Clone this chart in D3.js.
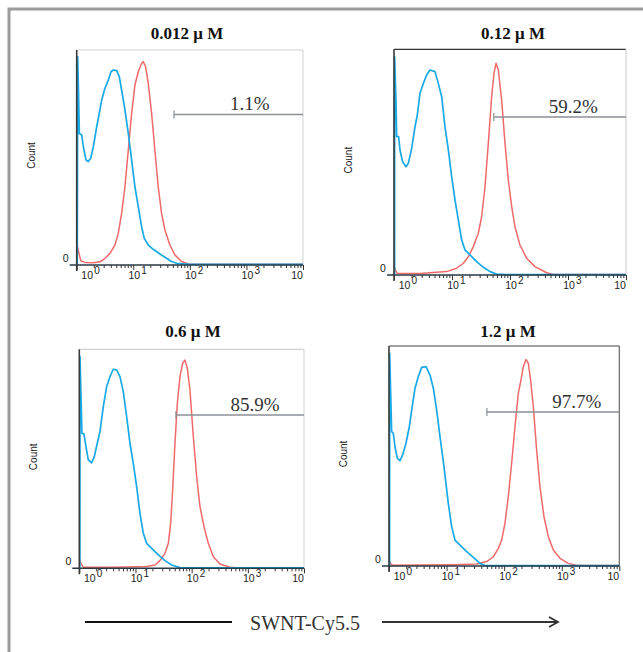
<!DOCTYPE html>
<html>
<head>
<meta charset="utf-8">
<script src="https://cdn.jsdelivr.net/npm/d3@7"></script>
<style>
  body { margin: 0; background: #fff; }
  svg { display: block; }
</style>
</head>
<body>
<div id="chart"></div>
<script>
// x values are log10 of SWNT-Cy5.5 fluorescence, y is normalized count (0-100)
var titles = ["0.012 μ M", "0.12 μ M", "0.6 μ M", "1.2 μ M"];
var percents = ["1.1%", "59.2%", "85.9%", "97.7%"];
var gateStart = [1.72, 1.72, 1.72, 1.70];
var gateCount = [70, 70, 70, 70];
var pctAt = [3.06, 3.09, 3.13, 3.26];
var decades = [0, 1, 2, 3, 4];

var blue1 = [[0.01,0],[0.018,96.9],[0.035,76.7],[0.047,61.2],[0.088,60.5],[0.118,55],[0.165,48.8],[0.206,48.1],
  [0.247,49.6],[0.294,55],[0.353,64.3],[0.394,69.8],[0.441,76.7],[0.5,82.2],[0.559,86],[0.606,89.9],[0.647,90.7],
  [0.706,90.4],[0.753,87.6],[0.794,81.4],[0.853,72.1],[0.912,61.2],[0.971,48.8],[1.029,36.4],[1.088,27.1],
  [1.147,17.8],[1.194,12.4],[1.265,9.3],[1.353,7.3],[1.471,5.1],[1.588,3.1],[1.676,1.6],[1.765,0.8],[2.0,0.3],[4.0,0.3]];
var red1 = [[0.005,0],[0.012,8.5],[0.041,5.4],[0.071,2],[0.147,1.2],[0.294,1.1],[0.412,1.5],[0.5,3.1],[0.588,5.4],
  [0.676,9.3],[0.735,14.7],[0.794,24],[0.853,36.4],[0.912,53.5],[0.971,70.5],[1.029,83.7],[1.088,89.9],[1.147,93.8],
  [1.176,94.6],[1.218,92.2],[1.265,84.5],[1.324,70.5],[1.382,53.5],[1.441,36.4],[1.5,24],[1.559,16.3],[1.647,9.3],
  [1.735,4.7],[1.853,1.6],[2.0,0.3],[4.0,0.3]];

var blue2 = [[0.01,0],[0.011,96.7],[0.034,77.5],[0.046,61.3],[0.08,61.3],[0.103,55.4],[0.149,50.2],[0.207,48],
  [0.247,49.5],[0.305,56.1],[0.362,65.7],[0.402,70.9],[0.448,80.5],[0.506,84.9],[0.563,88.6],[0.621,90.8],
  [0.707,90.1],[0.764,84.9],[0.822,79],[0.879,65.7],[0.937,55.4],[0.994,43.6],[1.052,33.2],[1.109,24.4],
  [1.167,15.5],[1.224,11.1],[1.31,8.9],[1.425,5.9],[1.54,3.4],[1.655,1.5],[1.77,0.4],[1.95,0.2],[4.0,0.2]];
var red2 = [[0.0,4.4],[0.023,2.2],[0.057,0.7],[0.448,0.7],[0.908,1.5],[1.08,3],[1.195,5.2],[1.282,8.1],[1.368,12.6],
  [1.454,18.5],[1.511,25.8],[1.569,39.1],[1.626,58.3],[1.684,79],[1.724,89.4],[1.759,93.8],[1.799,90.8],[1.856,77.5],
  [1.914,58.3],[1.971,42.1],[2.029,30.3],[2.086,21.4],[2.172,13.3],[2.287,7.4],[2.431,3.7],[2.632,1],[2.747,0.2],[4.0,0.2]];

var blue3 = [[0.01,0],[0.012,96.8],[0.03,78.5],[0.047,61.6],[0.083,61.3],[0.119,55.6],[0.16,49.5],[0.22,48.2],
  [0.267,51],[0.32,57.1],[0.368,62.4],[0.427,73.8],[0.487,83],[0.546,87.5],[0.605,90.9],[0.665,90.6],[0.724,87.5],
  [0.783,80.7],[0.843,69.3],[0.902,57.1],[0.961,47.9],[1.021,37.3],[1.08,25.1],[1.139,16],[1.199,11.4],[1.288,9.1],
  [1.407,6.1],[1.525,3.5],[1.644,1.5],[1.792,0.3],[1.95,0.2],[4.0,0.2]];
var red3 = [[0.0,4.6],[0.03,2.3],[0.071,0.5],[0.665,0.5],[1.199,0.8],[1.347,1.5],[1.436,3.5],[1.525,6.8],[1.585,11.4],
  [1.626,20.5],[1.662,35.8],[1.703,57.1],[1.745,75.3],[1.792,87.5],[1.84,93.6],[1.881,95.1],[1.923,91.3],[1.97,81.4],
  [2.03,60.1],[2.089,41.9],[2.148,28.2],[2.22,19],[2.297,11.4],[2.386,5.3],[2.504,2],[2.682,0.5],[2.8,0.2],[4.0,0.2]];

var blue4 = [[0.01,0],[0.012,96.7],[0.029,78.5],[0.046,61.1],[0.075,60.3],[0.104,54.2],[0.145,48.9],[0.191,47.9],
  [0.237,50.5],[0.295,55.8],[0.353,63.3],[0.394,70.9],[0.452,80.8],[0.509,86.1],[0.567,90.3],[0.643,90.6],
  [0.712,86.8],[0.77,80.8],[0.828,70.9],[0.886,58.8],[0.955,45.2],[1.03,28.5],[1.088,17.9],[1.146,11.8],
  [1.233,9.5],[1.349,6.5],[1.465,3.9],[1.58,1.2],[1.667,0.2],[4.0,0.2]];
var red4 = [[0.0,2.7],[0.029,0.9],[0.075,0.3],[1.117,0.6],[1.522,0.9],[1.696,2],[1.812,4.2],[1.899,8],[1.957,11.8],
  [2.014,19.4],[2.072,31.5],[2.13,46.7],[2.188,63.3],[2.246,78.5],[2.292,84.5],[2.333,90.6],[2.379,93.9],[2.42,92.1],
  [2.46,84.5],[2.507,72.4],[2.564,52.7],[2.622,36.1],[2.692,22.4],[2.767,13.3],[2.854,7.3],[2.97,3.5],[3.114,1.2],
  [3.259,0.3],[4.0,0.2]];

var blues = [blue1, blue2, blue3, blue4];
var reds = [red1, red2, red3, red4];

// plot boxes in page pixels
var boxes = [
  {l: 76.7, t: 50, r: 303, b: 265, tx: 187, ty: 39, topC: "#cfd3d6", rightC: "#d6d9dc"},
  {l: 394, t: 49.3, r: 626, b: 275, tx: 513, ty: 39, topC: "#333", rightC: "#d0d3d6"},
  {l: 79.3, t: 349.3, r: 304, b: 568.3, tx: 193, ty: 337, topC: "#cfd3d6", rightC: "#d6d9dc"},
  {l: 389, t: 346, r: 619.3, b: 566, tx: 508, ty: 337, topC: "#444", rightC: "#666"}
];

var W = 643, H = 652;
var svg = d3.select("#chart").append("svg").attr("width", W).attr("height", H);

// outer frame
svg.append("rect").attr("x", 9).attr("y", 9).attr("width", 700).attr("height", 700)
  .attr("fill", "none").attr("stroke", "#9b9b9b").attr("stroke-width", 3);

var sans = "'Liberation Sans', Arial, sans-serif";
var serif = "'Liberation Serif', 'Times New Roman', serif";

boxes.forEach(function(bx, i) {
  var x = d3.scaleLog().domain([1, 10000]).range([bx.l, bx.r]);
  var y = d3.scaleLinear().domain([0, 100]).range([bx.b, bx.t]);
  var fx = function(lg) { return x(Math.pow(10, lg)); };

  var g = svg.append("g");

  // top/right border
  g.append("line").attr("x1", bx.l).attr("x2", bx.r).attr("y1", bx.t).attr("y2", bx.t)
    .attr("stroke", bx.topC).attr("stroke-width", 1.2);
  g.append("line").attr("x1", bx.r).attr("x2", bx.r).attr("y1", bx.t).attr("y2", bx.b)
    .attr("stroke", bx.rightC).attr("stroke-width", 1.2);

  // title
  g.append("text").attr("x", bx.tx).attr("y", bx.ty).attr("text-anchor", "middle")
    .attr("font-family", serif).attr("font-weight", "bold").attr("font-size", 17)
    .attr("fill", "#111").text(titles[i]);

  // Count label
  g.append("text")
    .attr("transform", "translate(" + (bx.l - 42) + "," + ((bx.t + bx.b) / 2 - 2) + ") rotate(-90)")
    .attr("text-anchor", "middle").attr("font-family", sans).attr("font-size", 10)
    .attr("fill", "#222").text("Count");

  // "0"
  g.append("text").attr("x", bx.l - 11).attr("y", y(0) - 3).attr("text-anchor", "middle")
    .attr("font-family", sans).attr("font-size", 10.5).attr("fill", "#222").text("0");

  // curves
  var line = d3.line().x(function(d) { return fx(d[0]); }).y(function(d) { return y(d[1]); });
  g.append("path").datum(reds[i]).attr("d", line).attr("fill", "none")
    .attr("stroke", "#f06a6a").attr("stroke-width", 1.5).attr("stroke-linejoin", "round");
  g.append("path").datum(blues[i]).attr("d", line).attr("fill", "none")
    .attr("stroke", "#19aae6").attr("stroke-width", 1.7).attr("stroke-linejoin", "round");

  // axes: minor and major ticks
  var minor = x.ticks().filter(function(v) { return decades.indexOf(Math.round(Math.log10(v))) < 0 || Math.abs(Math.log10(v) - Math.round(Math.log10(v))) > 1e-6; });
  var major = decades.map(function(d) { return Math.pow(10, d); });
  var ax = g.append("g").attr("transform", "translate(0," + y(0) + ")");
  ax.append("g").call(d3.axisBottom(x).tickValues(minor).tickSize(3).tickFormat(""))
    .call(function(s) { s.select(".domain").remove(); s.selectAll("line").attr("stroke", "#333"); });
  ax.append("g").call(d3.axisBottom(x).tickValues(major).tickSize(5).tickFormat(""))
    .call(function(s) { s.select(".domain").remove(); s.selectAll("line").attr("stroke", "#333"); });

  // axis lines
  g.append("line").attr("x1", bx.l - 7).attr("x2", bx.r).attr("y1", y(0)).attr("y2", y(0))
    .attr("stroke", "#2a3a44").attr("stroke-width", 1.6);
  g.append("line").attr("x1", bx.l).attr("x2", bx.l).attr("y1", bx.t).attr("y2", y(0) + 6)
    .attr("stroke", "#3a3a3a").attr("stroke-width", 1.6);

  // decade labels
  decades.forEach(function(d) {
    var off = d === 0 ? 10.5 : (d === 4 ? -6 : 1);
    var cx = fx(d) + off;
    g.append("text").attr("x", cx).attr("y", y(0) + 14).attr("text-anchor", "middle")
      .attr("font-family", sans).attr("font-size", 10.5).attr("fill", "#222").text("10");
    if (d < 4) {
      g.append("text").attr("x", cx + 7).attr("y", y(0) + 8.5)
        .attr("font-family", sans).attr("font-size", 10).attr("fill", "#222").text(d);
    }
  });

  // gate
  var gy = y(gateCount[i]);
  g.append("line").attr("x1", fx(gateStart[i])).attr("x2", bx.r).attr("y1", gy).attr("y2", gy)
    .attr("stroke", "#8b9196").attr("stroke-width", 1.3);
  g.append("line").attr("x1", fx(gateStart[i])).attr("x2", fx(gateStart[i]))
    .attr("y1", gy - 4).attr("y2", gy + 4).attr("stroke", "#8b9196").attr("stroke-width", 1.2);
  g.append("text").attr("x", fx(pctAt[i])).attr("y", gy - 4.5).attr("text-anchor", "middle")
    .attr("font-family", serif).attr("font-size", 19).attr("fill", "#333").text(percents[i]);
});

// bottom axis title with arrow
var by = 622;
svg.append("line").attr("x1", 85).attr("x2", 232).attr("y1", by).attr("y2", by)
  .attr("stroke", "#111").attr("stroke-width", 2);
svg.append("text").attr("x", 305).attr("y", 630).attr("text-anchor", "middle")
  .attr("font-family", serif).attr("font-size", 20).attr("fill", "#333").text("SWNT-Cy5.5");
svg.append("line").attr("x1", 382).attr("x2", 557).attr("y1", by).attr("y2", by)
  .attr("stroke", "#333").attr("stroke-width", 2);
svg.append("path").attr("d", "M549,617 L558,622 L549,627").attr("fill", "none")
  .attr("stroke", "#333").attr("stroke-width", 1.8);
</script>
</body>
</html>
